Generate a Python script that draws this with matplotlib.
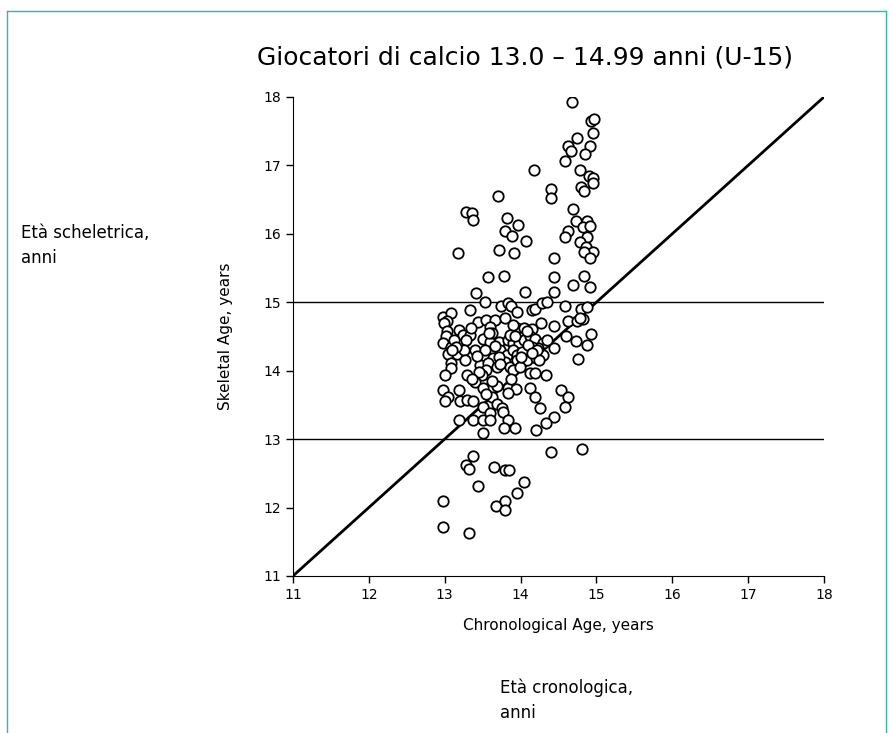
import matplotlib.pyplot as plt
from matplotlib.lines import Line2D

# chronological age / skeletal age
chrono = [14.68, 14.93, 14.97, 14.95, 14.75, 14.62, 14.67, 14.92, 14.85, 14.59,
          14.18, 14.79, 14.90, 14.95, 14.95, 14.80, 14.84, 14.40, 14.40, 13.70,
          14.69, 13.28, 13.36, 13.38, 13.82, 13.97, 14.73, 14.88, 14.83, 14.91,
          13.80, 13.89, 14.62, 14.58, 14.88, 14.07, 14.78, 13.18, 13.72, 13.91,
          14.86, 14.95, 14.84, 14.91, 14.44,
          13.57, 13.78, 14.44, 14.84, 14.69, 14.92, 13.41, 14.06, 14.44, 13.53,
          13.74, 13.83, 13.88, 13.96, 14.15, 14.19, 14.28, 14.35, 13.34, 14.59,
          14.80, 14.88, 12.98, 13.08, 13.03, 12.99, 13.03, 13.02,
          13.44, 13.55, 13.66, 13.60, 13.79, 13.95, 13.90,
          14.27, 14.15, 14.44, 14.62, 14.74, 14.83, 14.78,
          13.19, 13.24, 13.34, 13.28,
          13.50, 13.60, 13.71, 13.83, 13.90, 13.98,
          14.05, 14.13, 14.19, 14.30, 14.35, 14.60, 14.73, 14.88, 14.93, 14.44,
          12.98, 13.08, 13.05, 13.09, 13.08,
          13.16, 13.25, 13.40, 13.53, 13.64, 13.73, 13.82, 13.90, 13.96,
          13.47, 13.57, 13.69, 13.79, 13.86, 13.96, 14.08, 14.20, 14.30, 14.23, 14.15,
          14.12, 14.19, 14.34, 13.55, 13.90, 13.99,
          13.00, 13.30, 13.49, 13.40, 13.51, 13.69, 13.84, 13.94, 14.12,
          12.98, 13.05, 13.00, 13.19, 13.20, 13.29, 13.38, 13.51, 13.62, 13.69, 13.76, 13.83,
          14.19, 14.26, 14.54, 14.63, 14.59, 14.76, 14.44, 14.34, 14.20,
          13.19, 13.38, 13.51, 13.60, 13.60, 13.77, 13.84, 13.78, 13.93, 13.51,
          13.38, 13.28, 13.32, 13.65, 13.79, 13.85, 13.44, 14.04, 13.95, 12.98,
          13.68, 13.80, 13.79, 12.98, 13.32, 14.40, 14.81,
          13.12, 13.35, 13.62, 13.72, 14.02, 14.10, 14.25, 13.45, 13.86, 14.05,
          13.15, 13.42, 13.58, 13.66, 13.93, 14.08, 14.22, 13.27, 13.73, 14.00,
          13.36, 13.62, 13.87, 14.15, 13.10, 13.54]
skeletal = [17.93, 17.65, 17.68, 17.47, 17.40, 17.28, 17.21, 17.28, 17.17, 17.07,
            16.93, 16.93, 16.84, 16.82, 16.74, 16.68, 16.63, 16.65, 16.53, 16.55,
            16.37, 16.32, 16.30, 16.20, 16.23, 16.13, 16.19, 16.19, 16.10, 16.12,
            16.04, 15.97, 16.04, 15.95, 15.95, 15.90, 15.88, 15.72, 15.76, 15.72,
            15.81, 15.73, 15.73, 15.65, 15.64,
            15.37, 15.39, 15.37, 15.39, 15.25, 15.22, 15.13, 15.15, 15.15, 15.01,
            14.94, 14.99, 14.94, 14.86, 14.88, 14.90, 14.99, 15.00, 14.89, 14.94,
            14.90, 14.93, 14.78, 14.85, 14.72, 14.69, 14.58, 14.50,
            14.71, 14.74, 14.74, 14.64, 14.77, 14.62, 14.67,
            14.69, 14.61, 14.66, 14.72, 14.72, 14.75, 14.77,
            14.60, 14.52, 14.52, 14.45,
            14.47, 14.42, 14.42, 14.45, 14.40, 14.40,
            14.45, 14.51, 14.46, 14.41, 14.45, 14.51, 14.43, 14.38, 14.54, 14.33,
            14.40, 14.34, 14.25, 14.11, 14.04,
            14.25, 14.30, 14.30, 14.30, 14.18, 14.30, 14.23, 14.30, 14.23,
            14.08, 14.11, 14.06, 14.13, 14.06, 14.16, 14.16, 14.18, 14.23, 14.33, 14.35,
            13.96, 13.96, 13.93, 14.01, 14.01, 14.06,
            13.93, 13.93, 13.93, 13.84, 13.74, 13.78, 13.74, 13.73, 13.74,
            13.72, 13.62, 13.56, 13.72, 13.55, 13.57, 13.55, 13.47, 13.62, 13.52, 13.45, 13.67,
            13.62, 13.45, 13.72, 13.62, 13.47, 14.17, 13.33, 13.23, 13.13,
            13.28, 13.28, 13.28, 13.38, 13.28, 13.40, 13.28, 13.16, 13.16, 13.09,
            12.76, 12.62, 12.57, 12.60, 12.55, 12.55, 12.32, 12.38, 12.22, 12.10,
            12.03, 12.10, 11.96, 11.71, 11.63, 12.81, 12.85,
            14.45, 14.62, 14.55, 14.20, 14.28, 14.38, 14.15, 13.98, 14.52, 14.62,
            14.35, 14.22, 14.55, 14.36, 14.50, 14.58, 14.30, 14.15, 14.10, 14.20,
            13.88, 13.85, 13.88, 14.26, 14.30, 13.66]

x_ticks = [11, 12, 13, 14, 15, 16, 17, 18]
y_ticks = [11, 12, 13, 14, 15, 16, 17, 18]
ref_lines = [13, 15]

fig = plt.figure(figsize=(8.93, 7.33), dpi=100)
ax = fig.add_axes([0.328, 0.2142, 0.5947, 0.6535])

for yv in ref_lines:
    ax.plot([11, 18], [yv, yv], color='black', lw=1.0, zorder=1)
ax.plot([11, 18], [11, 18], color='black', lw=2.0, zorder=2)
ax.plot(chrono, skeletal, 'o', ms=7.5, mfc='white', mec='black', mew=1.3,
        ls='none', zorder=3)

ax.set_xlim(11, 18)
ax.set_ylim(11, 18)
ax.set_xticks(x_ticks)
ax.set_yticks(y_ticks)
ax.tick_params(direction='out', length=5, width=1, labelsize=10)
for side in ['top', 'right']:
    ax.spines[side].set_visible(False)
ax.set_xlabel('Chronological Age, years', fontsize=11, labelpad=12)
ax.set_ylabel('Skeletal Age, years', fontsize=11, labelpad=22)

fig.text(0.588, 0.922, 'Giocatori di calcio 13.0 \u2013 14.99 anni (U-15)',
         ha='center', va='center', fontsize=18)
fig.text(0.024, 0.665, 'Età scheletrica,\nanni', ha='left', va='center',
         fontsize=12, linespacing=1.5)
fig.text(0.56, 0.045, 'Età cronologica,\nanni', ha='left', va='center',
         fontsize=12, linespacing=1.5)

# teal frame around the slide
teal = '#3cb3a8'
fig.add_artist(Line2D([0.008, 0.008], [0.0, 0.985], color=teal, lw=1))
fig.add_artist(Line2D([0.008, 0.992], [0.985, 0.985], color=teal, lw=1))
fig.add_artist(Line2D([0.992, 0.992], [0.0, 0.985], color=teal, lw=1))

fig.savefig('out.png', dpi=100)
